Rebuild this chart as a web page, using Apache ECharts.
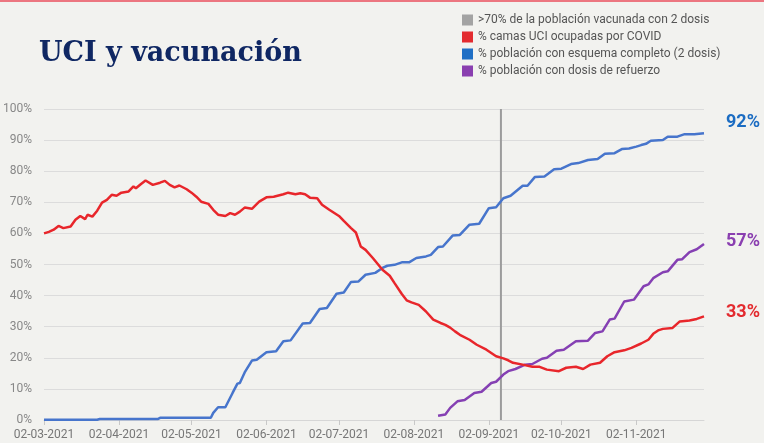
<!DOCTYPE html>
<html>
<head>
<meta charset="utf-8">
<script src="https://cdn.jsdelivr.net/npm/echarts@6/dist/echarts.min.js"></script>
<style>
  html, body { margin: 0; padding: 0; background: #f2f2ef; }
  #chart { width: 764px; height: 443px; }
</style>
</head>
<body>
<div id="chart"></div>
<script>
// days counted from 02-03-2021
const tickDays = [0, 31, 61, 92, 122, 153, 184, 214, 245];
const tickLabels = ["02-03-2021", "02-04-2021", "02-05-2021", "02-06-2021", "02-07-2021",
  "02-08-2021", "02-09-2021", "02-10-2021", "02-11-2021"];

const uciDays = [0, 2, 4, 6, 8, 11, 13, 15, 17, 18, 20, 22, 24, 26, 28, 30, 32, 35, 37, 38, 40, 42, 45, 48,
  50, 52, 54, 56, 59, 61, 63, 65, 68, 70, 72, 75, 77, 79, 81, 83, 86, 89, 92, 95, 99, 101, 104, 106, 108,
  110, 113, 115, 118, 122, 124, 127, 129, 131, 133, 136, 140, 143, 145, 148, 150, 152, 155, 158, 161, 164,
  166, 168, 170, 172, 176, 179, 183, 187, 190, 192, 194, 198, 202, 205, 208, 213, 216, 220, 223, 226, 230,
  233, 236, 240, 243, 247, 250, 252, 254, 256, 260, 263, 267, 270, 273];
const uciVals = [60, 60.5, 61.2, 62.4, 61.7, 62.2, 64.4, 65.6, 64.6, 66, 65.4, 67.3, 69.9, 70.8, 72.4, 72.1,
  73.1, 73.5, 75.1, 74.5, 75.8, 77, 75.6, 76.3, 76.9, 75.6, 74.8, 75.4, 74.2, 73.1, 71.8, 70.2, 69.5, 67.6,
  66, 65.6, 66.5, 66, 67, 68.3, 67.9, 70.2, 71.6, 71.8, 72.6, 73.1, 72.6, 72.9, 72.6, 71.5, 71.3, 69.2, 67.6,
  65.6, 64, 61.7, 60.3, 55.8, 54.7, 52.1, 48.3, 46.4, 44, 40.5, 38.5, 37.8, 37, 34.9, 32.3, 31.2, 30.6, 29.7,
  28.5, 27.4, 25.8, 24.2, 22.6, 20.5, 19.8, 19.2, 18.4, 17.8, 17.1, 17.1, 16.2, 15.7, 16.8, 17.1, 16.4, 17.8,
  18.4, 20.5, 21.8, 22.4, 23.2, 24.6, 25.8, 27.7, 28.8, 29.3, 29.6, 31.7, 32, 32.5, 33.3];

const vacDays = [0, 22, 23, 47, 48, 69, 70, 72, 75, 78, 80, 81, 83, 86, 88, 90, 92, 96, 99, 102, 107, 110,
  114, 117, 121, 124, 127, 130, 133, 137, 140, 142, 145, 148, 151, 154, 158, 160, 163, 165, 169, 172, 176,
  180, 184, 187, 190, 193, 198, 200, 203, 207, 211, 214, 218, 221, 225, 229, 232, 236, 239, 242, 245, 247,
  249, 251, 256, 258, 262, 265, 269, 273];
const vacVals = [0.1, 0.1, 0.3, 0.3, 0.7, 0.7, 2.3, 4.1, 4.1, 8.7, 11.7, 11.9, 15.3, 19.1, 19.4, 20.6, 21.8,
  22.1, 25.3, 25.6, 31, 31.2, 35.7, 36, 40.6, 41, 44.4, 44.5, 46.7, 47.3, 48.9, 49.6, 49.9, 50.7, 50.7, 52.1,
  52.6, 53.1, 55.6, 55.8, 59.3, 59.5, 62.8, 63.1, 68.1, 68.4, 71.3, 72.1, 75.3, 75.3, 78.1, 78.3, 80.6, 80.8,
  82.3, 82.6, 83.6, 83.9, 85.6, 85.8, 87.1, 87.3, 87.9, 88.4, 88.8, 89.8, 90, 91.1, 91.1, 91.9, 91.9, 92.2];

const boostDays = [163, 166, 168, 171, 174, 178, 181, 185, 187, 190, 192, 195, 199, 202, 206, 208, 212, 215,
  220, 225, 228, 231, 234, 236, 240, 244, 248, 250, 252, 256, 258, 262, 264, 267, 270, 273];
const boostVals = [1.4, 1.8, 3.9, 6, 6.4, 8.7, 9.1, 11.9, 12.3, 14.6, 15.7, 16.4, 17.8, 18, 19.7, 20, 22.3,
  22.6, 25.3, 25.5, 28, 28.5, 32.3, 32.6, 38.1, 38.7, 43, 43.6, 45.6, 47.5, 47.8, 51.5, 51.7, 54, 54.9, 56.6];

// >70% vaccinated marker
const markDay = 189;
const markRange = [0, 100];

const zip = (xs, ys) => xs.map((x, i) => [x, ys[i]]);

const chart = echarts.init(document.getElementById("chart"), null, { renderer: "canvas" });

const endLabel = (color, dy) => ({
  show: true,
  distance: 22,
  offset: [0, dy],
  fontFamily: "Roboto",
  fontWeight: "bold",
  fontSize: 18,
  color: color,
  formatter: (p) => Math.round(p.value[1]) + "%",
});

const option = {
  backgroundColor: "#f2f2ef",
  animation: false,
  textStyle: { fontFamily: "Roboto" },
  title: {
    text: "UCI y vacunación",
    left: 34,
    top: 35,
    textStyle: {
      fontFamily: "DejaVu Serif",
      fontWeight: "bold",
      fontSize: 27,
      color: "#0f2763",
    },
  },
  graphic: [
    { type: "rect", left: 0, top: 0, shape: { width: 764, height: 2 }, style: { fill: "#ec7680" } },
  ],
  legend: {
    orient: "vertical",
    left: 457,
    top: 9,
    icon: "rect",
    itemWidth: 11,
    itemHeight: 11,
    itemGap: 5,
    textStyle: { color: "#555", fontSize: 12, fontFamily: "Roboto" },
    data: [
      { name: ">70% de la población vacunada con 2 dosis", itemStyle: { color: "#a3a3a3" } },
      { name: "% camas UCI ocupadas por COVID", itemStyle: { color: "#e32b2f" } },
      { name: "% población con esquema completo (2 dosis)", itemStyle: { color: "#1f6fc5" } },
      { name: "% población con dosis de refuerzo", itemStyle: { color: "#8a3fb0" } },
    ],
  },
  grid: { left: 43, right: 60, top: 109, bottom: 23 },
  xAxis: {
    type: "value",
    min: 0,
    max: 273,
    splitLine: { show: false },
    axisLine: { show: true, lineStyle: { color: "#d6d6d6" } },
    axisTick: { show: true, customValues: tickDays, length: 5, lineStyle: { color: "#c8c8c8" } },
    axisLabel: {
      customValues: tickDays,
      color: "#777",
      fontSize: 12,
      margin: 9,
      formatter: (v) => tickLabels[tickDays.indexOf(v)] || "",
    },
  },
  yAxis: {
    type: "value",
    min: 0,
    max: 100,
    interval: 10,
    axisLine: { show: false },
    axisTick: { show: false },
    axisLabel: { color: "#888", fontSize: 12, margin: 12, formatter: "{value}%" },
    splitLine: { lineStyle: { color: "#dcdcdc", width: 1 } },
  },
  series: [
    {
      name: ">70% de la población vacunada con 2 dosis",
      type: "line",
      data: markRange.map((v) => [markDay, v]),
      showSymbol: false,
      color: "#a3a3a3",
      lineStyle: { color: "#9c9c9c", width: 2 },
      z: 1,
    },
    {
      name: "% camas UCI ocupadas por COVID",
      type: "line",
      data: zip(uciDays, uciVals),
      showSymbol: false,
      color: "#e32b2f",
      lineStyle: { color: "#e8262b", width: 2.5 },
      endLabel: endLabel("#e32b2f", -4),
      z: 3,
    },
    {
      name: "% población con esquema completo (2 dosis)",
      type: "line",
      data: zip(vacDays, vacVals),
      showSymbol: false,
      color: "#1f6fc5",
      lineStyle: { color: "#4775cc", width: 2.5 },
      endLabel: endLabel("#1b6cc2", -11),
      z: 2,
    },
    {
      name: "% población con dosis de refuerzo",
      type: "line",
      data: zip(boostDays, boostVals),
      showSymbol: false,
      color: "#8a3fb0",
      lineStyle: { color: "#8540b3", width: 2.5 },
      endLabel: endLabel("#8a3fb0", -2),
      z: 2,
    },
  ],
};

chart.setOption(option);
</script>
</body>
</html>
